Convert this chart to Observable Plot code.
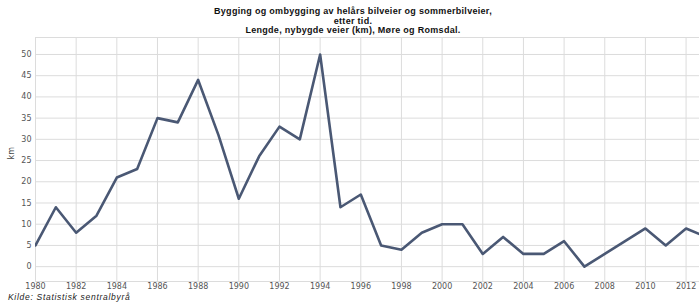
<!DOCTYPE html>
<html>
<head>
<meta charset="utf-8">
<script src="https://cdn.jsdelivr.net/npm/d3@7"></script>
<script src="https://cdn.jsdelivr.net/npm/@observablehq/plot@0.6"></script>
<style>
  html, body { margin: 0; padding: 0; background: #fff; }
  #wrap { position: relative; width: 699px; height: 305px; overflow: hidden; }
  #title { position: absolute; left: 0; top: 7px; width: 706px; text-align: center;
    font: bold 9px "Liberation Sans", Arial, sans-serif; line-height: 9.5px; color: #111; letter-spacing: 0.3px; }
  #source { position: absolute; left: 8px; top: 292px; line-height: 9px;
    font: italic 8.5px "Liberation Sans", Arial, sans-serif; color: #222; letter-spacing: 0.7px; }
  #chart { position: absolute; left: 0; top: 0; }
</style>
</head>
<body>
<div id="wrap">
  <div id="chart"></div>
  <div id="title">Bygging og ombygging av helårs bilveier og sommerbilveier,<br>etter tid.<br>Lengde, nybygde veier (km), Møre og Romsdal.</div>
  <div id="source">Kilde: Statistisk sentralbyrå</div>
</div>
<script>
const years = [1980,1981,1982,1983,1984,1985,1986,1987,1988,1989,1990,1991,1992,1993,1994,1995,1996,1997,1998,1999,2000,2001,2002,2003,2004,2005,2006,2007,2008,2009,2010,2011,2012,2013];
const km    = [5,14,8,12,21,23,35,34,44,31,16,26,33,30,50,14,17,5,4,8,10,10,3,7,3,3,6,0,3,6,9,5,9,7];
const xTicks = [1980,1982,1984,1986,1988,1990,1992,1994,1996,1998,2000,2002,2004,2006,2008,2010,2012];
const yTicks = [0,5,10,15,20,25,30,35,40,45,50];
const yLabel = "km";

const data = years.map((y, i) => ({year: y, value: km[i]}));

const chart = Plot.plot({
  width: 699,
  height: 305,
  marginTop: 37,
  marginBottom: 24,
  marginLeft: 35,
  marginRight: 0,
  style: {fontFamily: "'DejaVu Sans', Verdana, sans-serif", fontSize: "8px", color: "#555", background: "transparent"},
  x: {domain: [1980, 2012.66], ticks: xTicks, tickFormat: d => String(d), tickSize: 0, tickPadding: 2, label: null},
  y: {domain: [-3.5, 54], ticks: yTicks, tickSize: 0, tickPadding: 4, label: null},
  marks: [
    Plot.gridY(yTicks, {stroke: "#dcdcdc", strokeOpacity: 1}),
    Plot.gridX(xTicks, {stroke: "#dcdcdc", strokeOpacity: 1}),
    Plot.frame({stroke: "#dcdcdc"}),
    Plot.axisX({ticks: xTicks, tickFormat: d => String(d), tickSize: 0, tickPadding: 2}),
    Plot.axisY({ticks: yTicks, tickSize: 0, tickPadding: 4}),
    Plot.line(data, {x: "year", y: "value", stroke: "#4a5874", strokeWidth: 2.6, clip: true}),
    Plot.text([yLabel], {frameAnchor: "left", dx: -24, rotate: -90, fontSize: 8, fill: "#444"})
  ]
});
document.getElementById("chart").appendChild(chart);
</script>
</body>
</html>
